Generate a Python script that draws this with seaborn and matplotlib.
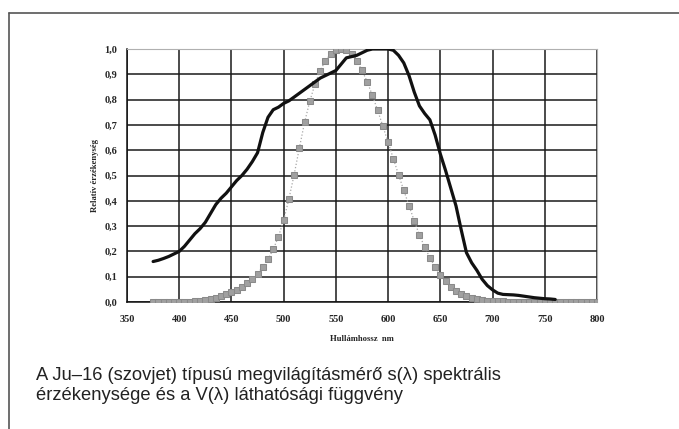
import numpy as np
import pandas as pd
import matplotlib
matplotlib.use("Agg")
import matplotlib.pyplot as plt
from matplotlib.ticker import FuncFormatter
import seaborn as sns

# s(lambda) - Ju-16 megvilágításmérő, 5 nm lépésekben 375..760 nm
s_hullam = list(range(375, 765, 5))
s_ertek = [0.16, 0.165, 0.172, 0.18, 0.19, 0.20, 0.22, 0.245, 0.27, 0.29,
           0.315, 0.35, 0.385, 0.41, 0.43, 0.455, 0.48, 0.50, 0.525, 0.555,
           0.59, 0.67, 0.73, 0.76, 0.77, 0.785, 0.795, 0.81, 0.825, 0.84,
           0.855, 0.87, 0.885, 0.895, 0.905, 0.915, 0.94, 0.965, 0.97, 0.975,
           0.985, 0.995, 1.0, 1.0, 1.0, 1.0, 0.995, 0.975, 0.945, 0.895,
           0.83, 0.775, 0.745, 0.72, 0.66, 0.585, 0.52, 0.45, 0.38, 0.285,
           0.195, 0.155, 0.125, 0.09, 0.065, 0.048, 0.035, 0.03, 0.029, 0.028,
           0.026, 0.023, 0.02, 0.017, 0.015, 0.013, 0.012, 0.01]

# V(lambda) - láthatósági függvény, 5 nm lépésekben 375..800 nm
v_hullam = list(range(375, 805, 5))
v_ertek = [0.0, 0.0, 0.0, 0.0, 0.0, 0.0004, 0.0006, 0.0012, 0.0022, 0.004,
           0.0073, 0.0116, 0.0168, 0.023, 0.0298, 0.038, 0.048, 0.060, 0.0739, 0.091,
           0.1126, 0.139, 0.1693, 0.208, 0.2586, 0.323, 0.4073, 0.503, 0.6082, 0.710,
           0.7932, 0.862, 0.9149, 0.954, 0.9803, 0.995, 1.0, 0.995, 0.9786, 0.952,
           0.9154, 0.870, 0.8163, 0.757, 0.6949, 0.631, 0.5668, 0.503, 0.4412, 0.381,
           0.321, 0.265, 0.217, 0.175, 0.1382, 0.107, 0.0816, 0.061, 0.0446, 0.032,
           0.0232, 0.017, 0.0119, 0.0082, 0.0057, 0.0041, 0.0029, 0.0021, 0.0015, 0.001,
           0.0007, 0.0005, 0.0004, 0.0002, 0.0002, 0.0001, 0.0, 0.0, 0.0, 0.0,
           0.0, 0.0, 0.0, 0.0, 0.0, 0.0]

x_tickek = list(range(350, 850, 50))
y_tickek = [i / 10 for i in range(11)]

felirat = ("A Ju\u201316 (szovjet) típusú megvilágításmérő s(\u03bb) spektrális\n"
           "érzékenysége és a V(\u03bb) láthatósági függvény")

sns.set_style("white")
plt.rcParams['font.family'] = ['Liberation Serif', 'DejaVu Serif']

df_s = pd.DataFrame({'hullam': s_hullam, 'ertek': s_ertek})
df_v = pd.DataFrame({'hullam': v_hullam, 'ertek': v_ertek})

fig = plt.figure(figsize=(6.79, 4.29), dpi=100)
ax = fig.add_axes([127 / 679, 1 - 302 / 429, 470 / 679, 253 / 429])

# rács
ax.grid(True, color='#1a1a1a', linewidth=1.1)
ax.set_axisbelow(True)

sns.lineplot(data=df_v, x='hullam', y='ertek', ax=ax, color='#a8a8a8',
             linestyle=':', linewidth=0.9, marker='s', markersize=4.0,
             markeredgecolor='#8a8a8a', markerfacecolor='#a0a0a0', zorder=3)
sns.lineplot(data=df_s, x='hullam', y='ertek', ax=ax, color='#111111',
             linewidth=2.3, zorder=4)

ax.set_xlim(350, 800)
ax.set_ylim(0, 1.0)
ax.set_xticks(x_tickek)
ax.set_yticks(y_tickek)
ax.yaxis.set_major_formatter(FuncFormatter(lambda v, p: f"{v:.1f}".replace('.', ',')))
ax.tick_params(axis='both', labelsize=7.5, length=3, width=0.8, color='#222222',
               pad=4)
ax.tick_params(axis='x', length=0, pad=9)
for lab in ax.get_xticklabels() + ax.get_yticklabels():
    lab.set_fontweight('bold')

ax.set_xlabel('Hullámhossz  nm', fontsize=6.2, fontweight='bold', labelpad=8)
ax.set_ylabel('Relatív érzékenység', fontsize=6.2, fontweight='bold', labelpad=4)

for side in ['left', 'bottom']:
    ax.spines[side].set_color('#111111')
    ax.spines[side].set_linewidth(1.1)
for side in ['top', 'right']:
    ax.spines[side].set_color('#b0b0b0')
    ax.spines[side].set_linewidth(0.8)

# keret: felső és bal vonal
fig.add_artist(plt.Line2D([9 / 679, 1.0], [1 - 13 / 429, 1 - 13 / 429],
                          color='#555555', linewidth=1.2))
fig.add_artist(plt.Line2D([9 / 679, 9 / 679], [0.0, 1 - 13 / 429],
                          color='#555555', linewidth=1.2))

fig.text(36 / 679, 1 - 367 / 429, felirat, ha='left', va='top', fontsize=13.2,
         family=['Liberation Sans Narrow', 'Liberation Sans', 'DejaVu Sans'],
         color='#222222', linespacing=1.2)

fig.savefig('out.png', dpi=100)
